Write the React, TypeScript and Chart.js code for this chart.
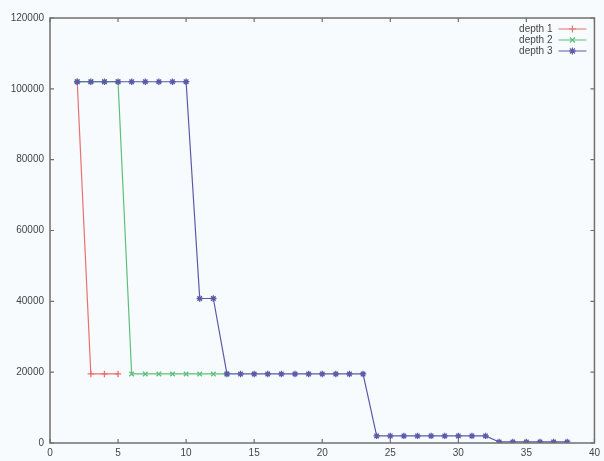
import React, { useEffect, useRef } from "react";
import { Chart, registerables } from "chart.js";

Chart.register(...registerables);

const depth1X = [2, 3, 4, 5];
const depth1Y = [102000, 19500, 19500, 19500];
const depth2X = [2, 3, 4, 5, 6, 7, 8, 9, 10, 11, 12, 13];
const depth2Y = [102000, 102000, 102000, 102000, 19500, 19500, 19500, 19500, 19500, 19500, 19500, 19500];
const depth3X = [2, 3, 4, 5, 6, 7, 8, 9, 10, 11, 12, 13, 14, 15, 16, 17, 18, 19, 20, 21, 22, 23, 24, 25, 26, 27, 28, 29, 30, 31, 32, 33, 34, 35, 36, 37, 38];
const depth3Y = [
  102000, 102000, 102000, 102000, 102000, 102000, 102000, 102000, 102000,
  40800, 40800,
  19500, 19500, 19500, 19500, 19500, 19500, 19500, 19500, 19500, 19500, 19500,
  2000, 2000, 2000, 2000, 2000, 2000, 2000, 2000, 2000,
  300, 300, 300, 300, 300, 300,
];
const seriesNames = ["depth 1", "depth 2", "depth 3"];
const seriesColors = ["#e8706e", "#5cbf7a", "#5a5aa8"];
const pointStyles = ["cross", "crossRot", "star"];
const xTicks = [0, 5, 10, 15, 20, 25, 30, 35, 40];
const yTicks = [0, 20000, 40000, 60000, 80000, 100000, 120000];

const FONT = "'Liberation Sans', Arial, sans-serif";

const toPoints = (xs: number[], ys: number[]) => xs.map((x, i) => ({ x, y: ys[i] }));

const framePlugin = {
  id: "frame",
  afterDraw(chart: any) {
    const { ctx, chartArea, scales } = chart;
    const { left, right, top, bottom } = chartArea;
    ctx.save();
    ctx.strokeStyle = "#707070";
    ctx.lineWidth = 1.5;
    ctx.strokeRect(left, top, right - left, bottom - top);
    ctx.lineWidth = 1.2;
    ctx.beginPath();
    for (const v of xTicks) {
      const px = scales.x.getPixelForValue(v);
      ctx.moveTo(px, bottom);
      ctx.lineTo(px, bottom - 4);
      ctx.moveTo(px, top);
      ctx.lineTo(px, top + 4);
    }
    for (const v of yTicks) {
      const py = scales.y.getPixelForValue(v);
      ctx.moveTo(left, py);
      ctx.lineTo(left + 4, py);
      ctx.moveTo(right, py);
      ctx.lineTo(right - 4, py);
    }
    ctx.stroke();

    // legend (top right, inside plot)
    ctx.font = `10px ${FONT}`;
    ctx.textAlign = "right";
    ctx.textBaseline = "middle";
    seriesNames.forEach((name, i) => {
      const y = top + 11 + i * 11;
      const textX = right - 42;
      ctx.fillStyle = "#444";
      ctx.fillText(name, textX, y);
      ctx.strokeStyle = seriesColors[i];
      ctx.lineWidth = 1;
      ctx.beginPath();
      ctx.moveTo(textX + 6, y);
      ctx.lineTo(textX + 34, y);
      ctx.stroke();
      const cx = textX + 20;
      ctx.lineWidth = 1.2;
      ctx.beginPath();
      if (i === 0) {
        ctx.moveTo(cx, y - 3.5); ctx.lineTo(cx, y + 3.5);
        ctx.moveTo(cx - 3.5, y); ctx.lineTo(cx + 3.5, y);
      } else if (i === 1) {
        ctx.moveTo(cx - 2.5, y - 2.5); ctx.lineTo(cx + 2.5, y + 2.5);
        ctx.moveTo(cx - 2.5, y + 2.5); ctx.lineTo(cx + 2.5, y - 2.5);
      } else {
        ctx.moveTo(cx, y - 3.5); ctx.lineTo(cx, y + 3.5);
        ctx.moveTo(cx - 3.5, y); ctx.lineTo(cx + 3.5, y);
        ctx.moveTo(cx - 2.5, y - 2.5); ctx.lineTo(cx + 2.5, y + 2.5);
        ctx.moveTo(cx - 2.5, y + 2.5); ctx.lineTo(cx + 2.5, y - 2.5);
      }
      ctx.stroke();
    });
    ctx.restore();
  },
};

const bgPlugin = {
  id: "bg",
  beforeDraw(chart: any) {
    const { ctx, width, height } = chart;
    ctx.save();
    ctx.fillStyle = "#f8fbfd";
    ctx.fillRect(0, 0, width, height);
    ctx.restore();
  },
};

export default function App() {
  const ref = useRef<HTMLCanvasElement | null>(null);

  useEffect(() => {
    document.body.style.margin = "0";
    if (!ref.current) return;
    const series = [toPoints(depth1X, depth1Y), toPoints(depth2X, depth2Y), toPoints(depth3X, depth3Y)];
    const chart = new Chart(ref.current, {
      type: "line",
      data: {
        datasets: series.map((data, i) => ({
          label: seriesNames[i],
          data,
          borderColor: seriesColors[i],
          backgroundColor: seriesColors[i],
          borderWidth: 1.2,
          pointStyle: pointStyles[i] as any,
          pointRadius: 3.2,
          pointBorderWidth: 1.3,
          pointBorderColor: seriesColors[i],
          tension: 0,
          fill: false,
          order: 3 - i,
        })),
      },
      options: {
        animation: false,
        responsive: false,
        maintainAspectRatio: false,
        layout: { padding: { left: 0, right: 6, top: 18, bottom: 0 } },
        plugins: { legend: { display: false }, tooltip: { enabled: false } },
        scales: {
          x: {
            type: "linear",
            min: 0,
            max: 40,
            afterBuildTicks: (s: any) => { s.ticks = xTicks.map((v) => ({ value: v })); },
            afterFit: (s: any) => { s.height = 18; },
            grid: { display: false, drawTicks: false },
            border: { display: false },
            ticks: { color: "#444", font: { family: FONT, size: 10 }, padding: 4, maxRotation: 0, autoSkip: false, callback: (v: any) => String(v) },
          },
          y: {
            type: "linear",
            min: 0,
            max: 120000,
            afterBuildTicks: (s: any) => { s.ticks = yTicks.map((v) => ({ value: v })); },
            afterFit: (s: any) => { s.width = 50; },
            grid: { display: false, drawTicks: false },
            border: { display: false },
            ticks: { color: "#444", font: { family: FONT, size: 10 }, padding: 6, autoSkip: false, callback: (v: any) => String(v) },
          },
        },
      },
      plugins: [bgPlugin, framePlugin],
    });
    return () => chart.destroy();
  }, []);

  return <canvas ref={ref} width={604} height={461} style={{ display: "block", width: 604, height: 461 }} />;
}
